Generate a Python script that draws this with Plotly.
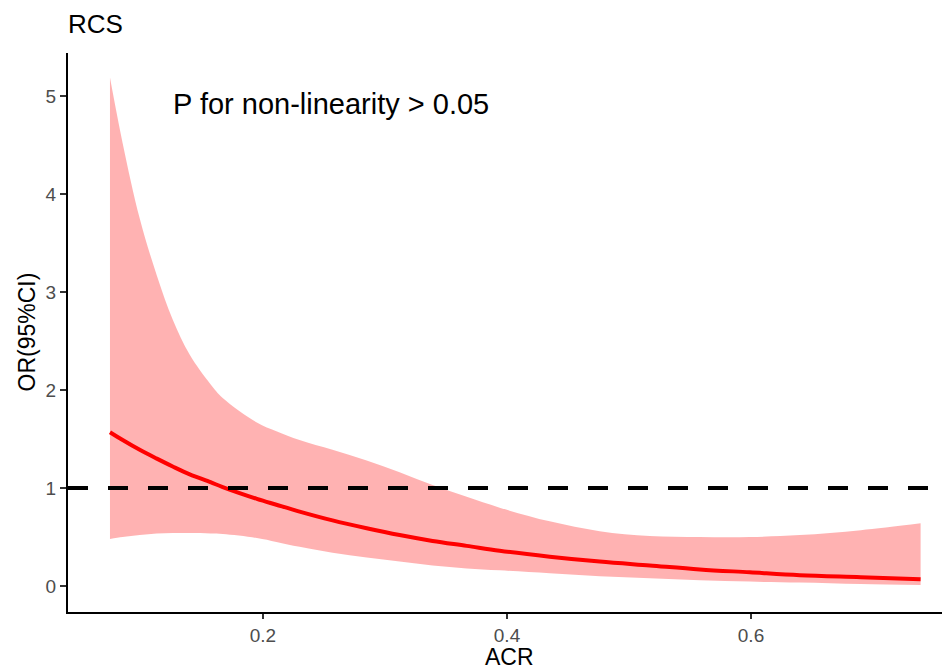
import plotly.graph_objects as go

# ---- data ----
acr = [0.0746, 0.085, 0.099, 0.113, 0.126, 0.140, 0.157, 0.167, 0.195, 0.211,
       0.230, 0.257, 0.285, 0.312, 0.339, 0.367, 0.394, 0.435, 0.476, 0.517,
       0.558, 0.599, 0.640, 0.690, 0.739]
or_est = [1.57, 1.49, 1.39, 1.30, 1.22, 1.14, 1.06, 1.01, 0.89, 0.83,
          0.76, 0.67, 0.59, 0.52, 0.46, 0.41, 0.36, 0.30, 0.25, 0.21,
          0.17, 0.14, 0.11, 0.09, 0.07]
ci_upper = [5.19, 4.52, 3.75, 3.17, 2.72, 2.36, 2.06, 1.92, 1.67, 1.58,
            1.49, 1.39, 1.28, 1.16, 1.03, 0.91, 0.80, 0.66, 0.56, 0.51,
            0.50, 0.50, 0.52, 0.57, 0.64]
ci_lower = [0.48, 0.50, 0.52, 0.535, 0.54, 0.54, 0.535, 0.53, 0.49, 0.45,
            0.40, 0.34, 0.29, 0.25, 0.21, 0.18, 0.16, 0.13, 0.10, 0.08,
            0.06, 0.045, 0.035, 0.02, 0.01]
ref_line = 1
x_ticks = [0.2, 0.4, 0.6]
y_ticks = [0, 1, 2, 3, 4, 5]

FONT = "Liberation Sans, Arial, sans-serif"

# the page body has a default 8px margin; size the figure to fill the rest of the window
W, H = 942, 662

fig = go.Figure()
fig.add_trace(go.Scatter(x=acr, y=ci_lower, mode="lines", line=dict(width=0, shape="spline"),
                         showlegend=False, hoverinfo="skip"))
fig.add_trace(go.Scatter(x=acr, y=ci_upper, mode="lines", line=dict(width=0, shape="spline"),
                         fill="tonexty", fillcolor="rgba(255,0,0,0.3)",
                         showlegend=False, hoverinfo="skip"))
fig.add_trace(go.Scatter(x=acr, y=or_est, mode="lines",
                         line=dict(color="#FF0000", width=4, shape="spline"),
                         showlegend=False))

fig.add_shape(type="line", xref="paper", x0=0, x1=1, yref="y", y0=ref_line, y1=ref_line,
              line=dict(color="black", width=4, dash="20px,20px"))

fig.add_annotation(text="P for non-linearity > 0.05", xref="x", yref="y",
                   x=0.125, y=4.92, xanchor="left", yanchor="middle",
                   showarrow=False, font=dict(family=FONT, size=29, color="black"))

# axis titles as annotations for exact placement
fig.add_annotation(text="ACR", xref="paper", yref="paper", x=0.5, y=0,
                   xanchor="center", yanchor="middle", yshift=-45, showarrow=False,
                   font=dict(family=FONT, size=23, color="black"))
fig.add_annotation(text="OR(95%CI)", xref="paper", yref="paper", x=0, y=0.5,
                   xanchor="center", yanchor="middle", xshift=-42, textangle=-90,
                   showarrow=False, font=dict(family=FONT, size=23, color="black"))

fig.update_layout(
    width=W, height=H,
    margin=dict(l=60, r=0, t=45, b=58, pad=0),
    plot_bgcolor="white", paper_bgcolor="white",
    font=dict(family=FONT),
    title=dict(text="RCS", xref="paper", x=0, xanchor="left",
               yref="container", y=1 - 16 / H, yanchor="middle",
               font=dict(family=FONT, size=26, color="black")),
    xaxis=dict(range=[0.0402, 0.7631], tickvals=x_ticks, ticktext=[str(v) for v in x_ticks],
               showgrid=False, zeroline=False, showline=True, linecolor="black", linewidth=2,
               ticks="outside", ticklen=5, tickwidth=2, tickcolor="#333333", automargin=False,
               tickfont=dict(family=FONT, size=19, color="#4D4D4D")),
    yaxis=dict(range=[-0.265, 5.44], tickvals=y_ticks, ticktext=[str(v) for v in y_ticks],
               showgrid=False, zeroline=False, showline=True, linecolor="black", linewidth=2,
               ticks="outside", ticklen=6, tickwidth=2, tickcolor="#333333", automargin=False,
               tickfont=dict(family=FONT, size=19, color="#4D4D4D")),
)

fig.write_html("out.html")
